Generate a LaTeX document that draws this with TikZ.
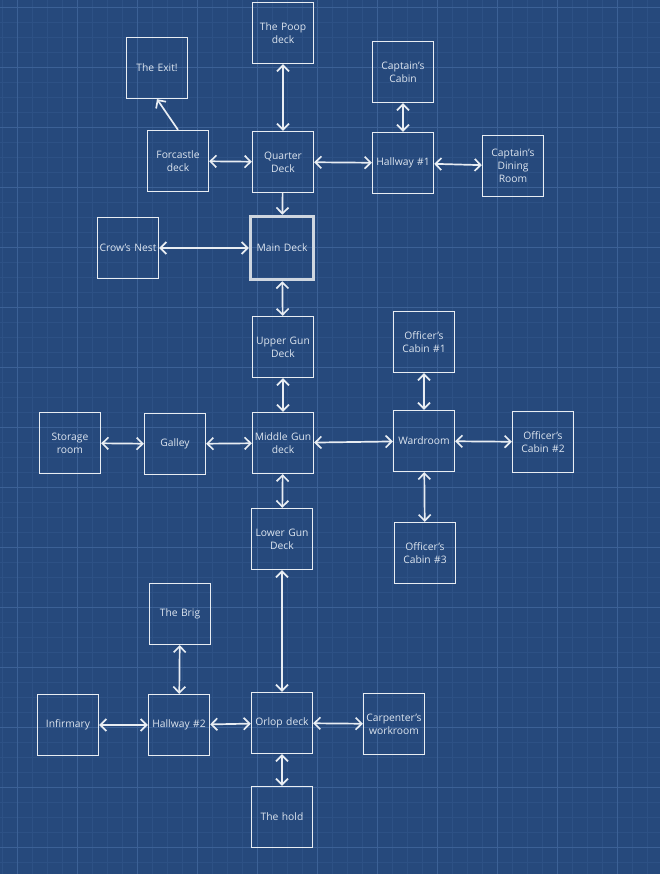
\documentclass[tikz,border=0pt]{standalone}
\usepackage{fontspec}
\setmainfont{Open Sans}
\usetikzlibrary{arrows.meta}

\definecolor{bpBack}{RGB}{38,73,124}
\definecolor{bpMinor}{RGB}{45,81,133}
\definecolor{bpMajor}{RGB}{60,97,150}
\definecolor{bpLine}{RGB}{232,237,243}
\definecolor{bpText}{RGB}{222,230,240}
\definecolor{bpMain}{RGB}{206,214,224}

\tikzset{
  room/.style={draw=bpLine, line width=1.3pt, minimum width=61pt, minimum height=61pt,
    inner sep=1pt, text width=58pt, align=center, text=bpText,
    font=\fontsize{10.3}{13}\selectfont},
  mainroom/.style={room, draw=bpMain, line width=3.5pt, minimum width=63pt, minimum height=63pt},
  link/.style={draw=bpLine, line width=1.7pt, {Straight Barb[length=6pt,width=12pt]}-{Straight Barb[length=6pt,width=12pt]}},
  onelink/.style={draw=bpLine, line width=1.7pt, -{Straight Barb[length=6pt,width=12pt]}}
}

\begin{document}
\begin{tikzpicture}[x=1pt,y=1pt,yscale=-1]

%Background and grid
\fill [bpBack] (0,0) rectangle (660,874);
\useasboundingbox (0,0) rectangle (660,874);
\foreach \gx in {2,17,...,660} \draw [bpMinor, line width=0.6pt] (\gx,0) -- (\gx,874);
\foreach \gy in {7,22,...,874} \draw [bpMinor, line width=0.6pt] (0,\gy) -- (660,\gy);
\foreach \gx in {17,77,...,660} \draw [bpMajor, line width=0.8pt] (\gx,0) -- (\gx,874);
\foreach \gy in {7,67,...,874} \draw [bpMajor, line width=0.8pt] (0,\gy) -- (660,\gy);

%Upper decks
\node [room] (poop) at (283,33) {The Poop\\deck};
\node [room] (exit) at (157,68) {The Exit!};
\node [room] (capcabin) at (403,72) {Captain's\\Cabin};
\node [room] (forc) at (178,161) {Forcastle\\deck};
\node [room] (quarter) at (283,162) {Quarter\\Deck};
\node [room] (hall1) at (403,163) {Hallway \#1};
\node [room] (capdining) at (513,166) {Captain's\\Dining\\Room};

%Main deck
\node [room] (crow) at (128,248) {Crow's Nest};
\node [mainroom] (main) at (282,248) {Main Deck};

%Gun decks
\node [room] (uppergun) at (283,347) {Upper Gun\\Deck};
\node [room] (off1) at (424,342) {Officer's\\Cabin \#1};
\node [room] (storage) at (70,443) {Storage\\room};
\node [room] (galley) at (175,444) {Galley};
\node [room] (middlegun) at (283,443) {Middle Gun\\deck};
\node [room] (ward) at (424,441) {Wardroom};
\node [room] (off2) at (543,442) {Officer's\\Cabin \#2};
\node [room] (lowergun) at (282,539) {Lower Gun\\Deck};
\node [room] (off3) at (425,553) {Officer's\\Cabin \#3};

%Orlop and below
\node [room] (brig) at (180,614) {The Brig};
\node [room] (infirm) at (68,725) {Infirmary};
\node [room] (hall2) at (179,725) {Hallway \#2};
\node [room] (orlop) at (282,723) {Orlop deck};
\node [room] (carp) at (394,724) {Carpenter's\\workroom};
\node [room] (hold) at (282,817) {The hold};

%Connections
\draw [onelink] (forc.north) -- (exit.south);
\draw [link] (poop) -- (quarter);
\draw [link] (forc) -- (quarter);
\draw [link] (quarter) -- (hall1);
\draw [link] (hall1) -- (capcabin);
\draw [link] (hall1) -- (capdining);
\draw [onelink] (quarter) -- (main);
\draw [link] (crow) -- (main);
\draw [link] (main) -- (uppergun);
\draw [link] (uppergun) -- (middlegun);
\draw [link] (storage) -- (galley);
\draw [link] (galley) -- (middlegun);
\draw [link] (middlegun) -- (ward);
\draw [link] (ward) -- (off1);
\draw [link] (ward) -- (off2);
\draw [link] (ward) -- (off3);
\draw [link] (middlegun) -- (lowergun);
\draw [link] (lowergun) -- (orlop);
\draw [link] (hall2) -- (brig);
\draw [link] (infirm) -- (hall2);
\draw [link] (hall2) -- (orlop);
\draw [link] (orlop) -- (carp);
\draw [link] (orlop) -- (hold);

\end{tikzpicture}
\end{document}
